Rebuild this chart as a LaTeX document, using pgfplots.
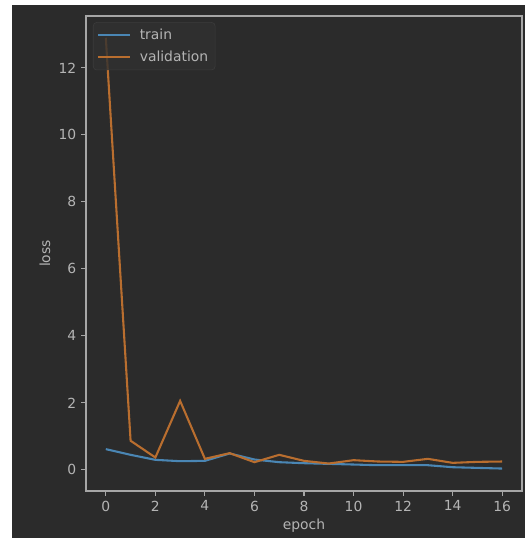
\documentclass[border=0pt]{standalone}
\usepackage{fontspec}
\setmainfont{DejaVu Sans}
\usepackage{pgfplots}
\pgfplotsset{compat=1.18}
\definecolor{bg}{HTML}{2B2B2B}
\definecolor{axgray}{HTML}{A6A6A6}
\definecolor{txtgray}{HTML}{B4B4B4}
\definecolor{trainc}{HTML}{4A86B4}
\definecolor{valc}{HTML}{B96E2F}
\definecolor{legbg}{HTML}{303030}
\definecolor{legdraw}{HTML}{3C3C3C}
\begin{document}
\begin{tikzpicture}
\fill[white] (-61.92pt,-33.84pt) rectangle (316.08pt,353.52pt);
\fill[bg] (-53.28pt,-33.84pt) rectangle (316.08pt,349.92pt);
\begin{axis}[
  scale only axis, width=313.92pt, height=342pt,
  at={(0,0)}, anchor=south west,
  xmin=-0.8, xmax=16.8, ymin=-0.63, ymax=13.55,
  xtick={0,2,...,16}, ytick={0,2,...,12},
  axis line style={axgray, line width=0.8pt},
  tick style={axgray, line width=0.8pt},
  tick align=outside, major tick length=3.5pt,
  tick pos=left,
  ticklabel style={text=txtgray},
  /pgf/number format/assume math mode=true,
  xlabel=epoch, ylabel=loss,
  every axis x label/.style={at={(axis description cs:0.5,-0.0737)}, anchor=center, text=txtgray},
  every axis y label/.style={at={(axis description cs:-0.094,0.5)}, anchor=center, rotate=90, text=txtgray},
  axis background/.style={fill=bg},
  legend style={at={(axis description cs:0.016,0.987)}, anchor=north west, fill=legbg, fill opacity=0.8, text opacity=1, draw=legdraw, rounded corners=2.5pt, inner xsep=3pt, inner ysep=2.5pt, row sep=3pt, nodes={text=txtgray, inner sep=2pt}},
  legend image code/.code={\draw[#1] (0pt,0pt) -- (23pt,0pt); \path (27pt,0pt);},
  legend cell align=left,
]
\addplot[trainc, line width=1.5pt] coordinates {
(0,0.62) (1,0.45) (2,0.30) (3,0.26) (4,0.27) (5,0.49) (6,0.31) (7,0.23) (8,0.20)
(9,0.18) (10,0.16) (11,0.14) (12,0.14) (13,0.14) (14,0.08) (15,0.06) (16,0.04)};
\addlegendentry{train}
\addplot[valc, line width=1.5pt] coordinates {
(0,12.9) (1,0.87) (2,0.37) (3,2.06) (4,0.33) (5,0.50) (6,0.23) (7,0.45) (8,0.27)
(9,0.19) (10,0.29) (11,0.25) (12,0.24) (13,0.33) (14,0.21) (15,0.24) (16,0.25)};
\addlegendentry{validation}
\end{axis}
\end{tikzpicture}
\end{document}
